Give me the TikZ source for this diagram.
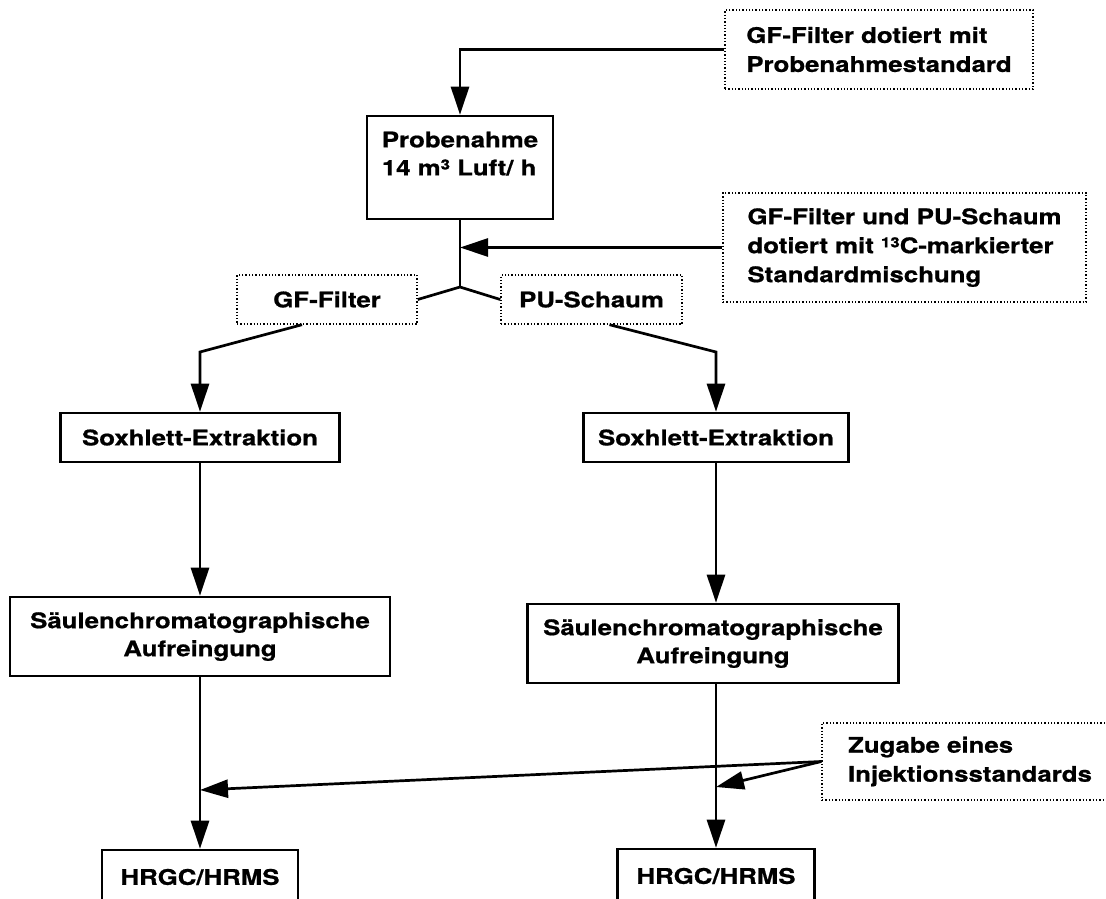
\documentclass[tikz,border=0pt]{standalone}
\usepackage{fontspec}
\usetikzlibrary{arrows.meta,positioning,calc}
\newfontfamily\diagfont{TeX Gyre Heros}[FakeStretch=1.2,FakeBold=0.8]
\newcommand{\supnum}[1]{\raisebox{0.5ex}{\fontsize{14}{14}\selectfont #1}}

\begin{document}
\begin{tikzpicture}[x=1pt,y=-1pt,
    stepbox/.style={rectangle,draw,line width=2.6pt,inner sep=0pt,align=center,font=\diagfont\bfseries\fontsize{21.5}{28}\selectfont},
    notebox/.style={rectangle,draw,line width=1.4pt,dash pattern=on 1.3pt off 2pt,inner sep=0pt,align=left,font=\diagfont\bfseries\fontsize{21.5}{29}\selectfont},
    arr/.style={-{Triangle[length=28pt,width=18pt]},line width=2.7pt},
    ln/.style={line width=2.7pt},
]
\useasboundingbox (0,0) rectangle (1106,898);

% Sampling
\node[notebox,minimum width=308,minimum height=79] (dotprobe) at (879,49.5) {GF-Filter dotiert mit\\Probenahmestandard};
\node[stepbox,minimum width=186,minimum height=103,align=left] (probe) at (460,167.5) {Probenahme\\14 m\supnum{3} Luft/ h\\\mbox{}};
\node[notebox,minimum width=363,minimum height=109] (dotmix) at (904.5,247.5) {GF-Filter und PU-Schaum\\dotiert mit \supnum{13}C-markierter\\Standardmischung};
\coordinate (split) at (460,287);
\draw[arr] (dotprobe.west) -| (probe.north);
\draw[ln] (probe.south) -- (split);
\draw[arr] (dotmix.west) -- (dotmix.west -| probe.south);

% Split into filter and foam
\node[notebox,minimum width=180,minimum height=49] (gf) at (327,299.5) {GF-Filter};
\node[notebox,minimum width=181,minimum height=49] (pu) at (591.5,299.5) {PU-Schaum};
\draw[ln] (split) -- (gf.east);
\draw[ln] (split) -- (pu.west);

% Left column - GF-Filter
\node[stepbox,minimum width=279,minimum height=49] (soxL) at (200,437.5) {Soxhlett-Extraktion};
\node[stepbox,minimum width=380,minimum height=79] (cleanL) at (200,636.5) {Säulenchromatographische\\Aufreingung};
\node[stepbox,minimum width=196,minimum height=54] (msL) at (200,877) {HRGC/HRMS};
\coordinate (bendL) at (200,352);
\draw[arr] ([xshift=-25pt]gf.south) -- (bendL) -- (soxL.north);
\draw[arr] (soxL.south) -- (cleanL.north);
\draw[arr] (cleanL.south) -- (msL.north);

% Right column - PU-Schaum
\node[stepbox,minimum width=265,minimum height=49] (soxR) at (716,437.5) {Soxhlett-Extraktion};
\node[stepbox,minimum width=371,minimum height=79] (cleanR) at (713,643.5) {Säulenchromatographische\\Aufreingung};
\node[stepbox,minimum width=197,minimum height=54] (msR) at (716,876) {HRGC/HRMS};
\coordinate (bendR) at (716,352);
\draw[arr] ([xshift=18pt]pu.south) -- (bendR) -- (soxR.north);
\draw[arr] (soxR.south) -- (soxR.south |- cleanR.north);
\draw[arr] (soxR.south |- cleanR.south) -- (msR.north);

% Injection standard
\node[notebox,minimum width=296,minimum height=77] (inj) at (970,761.5) {Zugabe eines\\Injektionsstandards};
\coordinate (injL) at (200,790);
\coordinate (injR) at (716,787);
\draw[arr] (inj.west) -- (injL);
\draw[arr] (inj.west) -- (injR);
\end{tikzpicture}
\end{document}
